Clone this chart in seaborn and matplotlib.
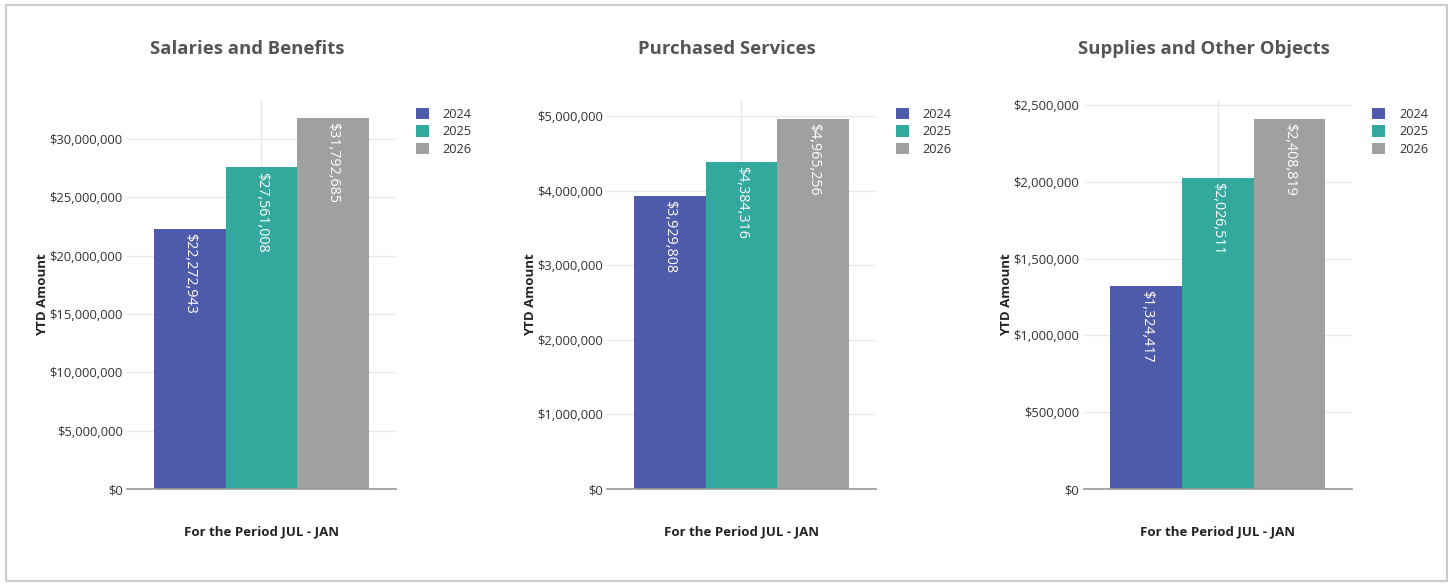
import pandas as pd
import matplotlib
matplotlib.use("Agg")
import matplotlib.pyplot as plt
import seaborn as sns
from matplotlib.ticker import FuncFormatter, MultipleLocator
from matplotlib.patches import Rectangle

# dati
panels = ["Salaries and Benefits", "Purchased Services", "Supplies and Other Objects"]
years = ["2024", "2025", "2026"]
salaries = [22272943, 27561008, 31792685]
services = [3929808, 4384316, 4965256]
supplies = [1324417, 2026511, 2408819]
period = "For the Period JUL - JAN"

colors = ["#4E5BAA", "#33A89C", "#A0A0A0"]

rows = []
for p, vals in zip(panels, [salaries, services, supplies]):
    for y, v in zip(years, vals):
        rows.append({"panel": p, "year": y, "value": v, "period": ""})
df = pd.DataFrame(rows)

sns.set_theme(style="white")
plt.rcParams["font.family"] = ["Open Sans", "DejaVu Sans"]

fig = plt.figure(figsize=(14.53, 5.85), dpi=100)
fig.patches.append(Rectangle((0.004, 0.006), 0.992, 0.986, transform=fig.transFigure,
                             fill=False, edgecolor="#cccccc", linewidth=1.5))

lefts = [0.0874, 0.4178, 0.7457]
tops = [33.34e6, 5.214e6, 2.532e6]
steps = [5e6, 1e6, 5e5]

for i, p in enumerate(panels):
    ax = fig.add_axes([lefts[i], 0.164, 0.185, 0.665])
    sub = df[df["panel"] == p]
    sns.barplot(data=sub, x="period", y="value", hue="year", palette=colors,
                ax=ax, saturation=1, edgecolor="none")
    ax.set_xlim(-0.5, 0.5)
    ax.set_ylim(0, tops[i])
    ax.yaxis.set_major_locator(MultipleLocator(steps[i]))
    ax.yaxis.set_major_formatter(FuncFormatter(lambda v, pos: "${:,.0f}".format(v)))
    ax.grid(True, axis="both", color="#e8e8e8", linewidth=1)
    ax.set_axisbelow(True)
    for s in ["top", "right", "left"]:
        ax.spines[s].set_visible(False)
    ax.spines["bottom"].set_color("#999999")
    ax.spines["bottom"].set_linewidth(1.2)
    ax.tick_params(axis="y", length=0, pad=3, labelsize=9.4, labelcolor="#333333")
    ax.tick_params(axis="x", length=0, labelbottom=False)
    ax.set_xticks([0])
    ax.set_xlabel(period, fontsize=9.5, fontweight="bold", color="#222222", labelpad=26)
    ax.set_ylabel("YTD Amount", fontsize=9.5, fontweight="bold", color="#222222", labelpad=0)
    ax.set_title(p, fontsize=13.3, fontweight="bold", color="#555555", x=0.447, pad=33)

    for c in ax.containers:
        labs = ["${:,.0f}".format(b.get_height()) for b in c]
        anns = ax.bar_label(c, labels=labs, padding=-3, rotation=-90,
                            color="white", fontsize=10.3)
        for a in anns:
            a.set_va("top")

    handles, labels = ax.get_legend_handles_labels()
    ax.legend(handles, labels, loc="upper left", bbox_to_anchor=(1.032, 1.01),
              frameon=False, fontsize=9.2, handlelength=1.0, handleheight=1.0,
              labelspacing=0.35, handletextpad=1.1, labelcolor="#333333")

fig.savefig("out.png", dpi=100)
